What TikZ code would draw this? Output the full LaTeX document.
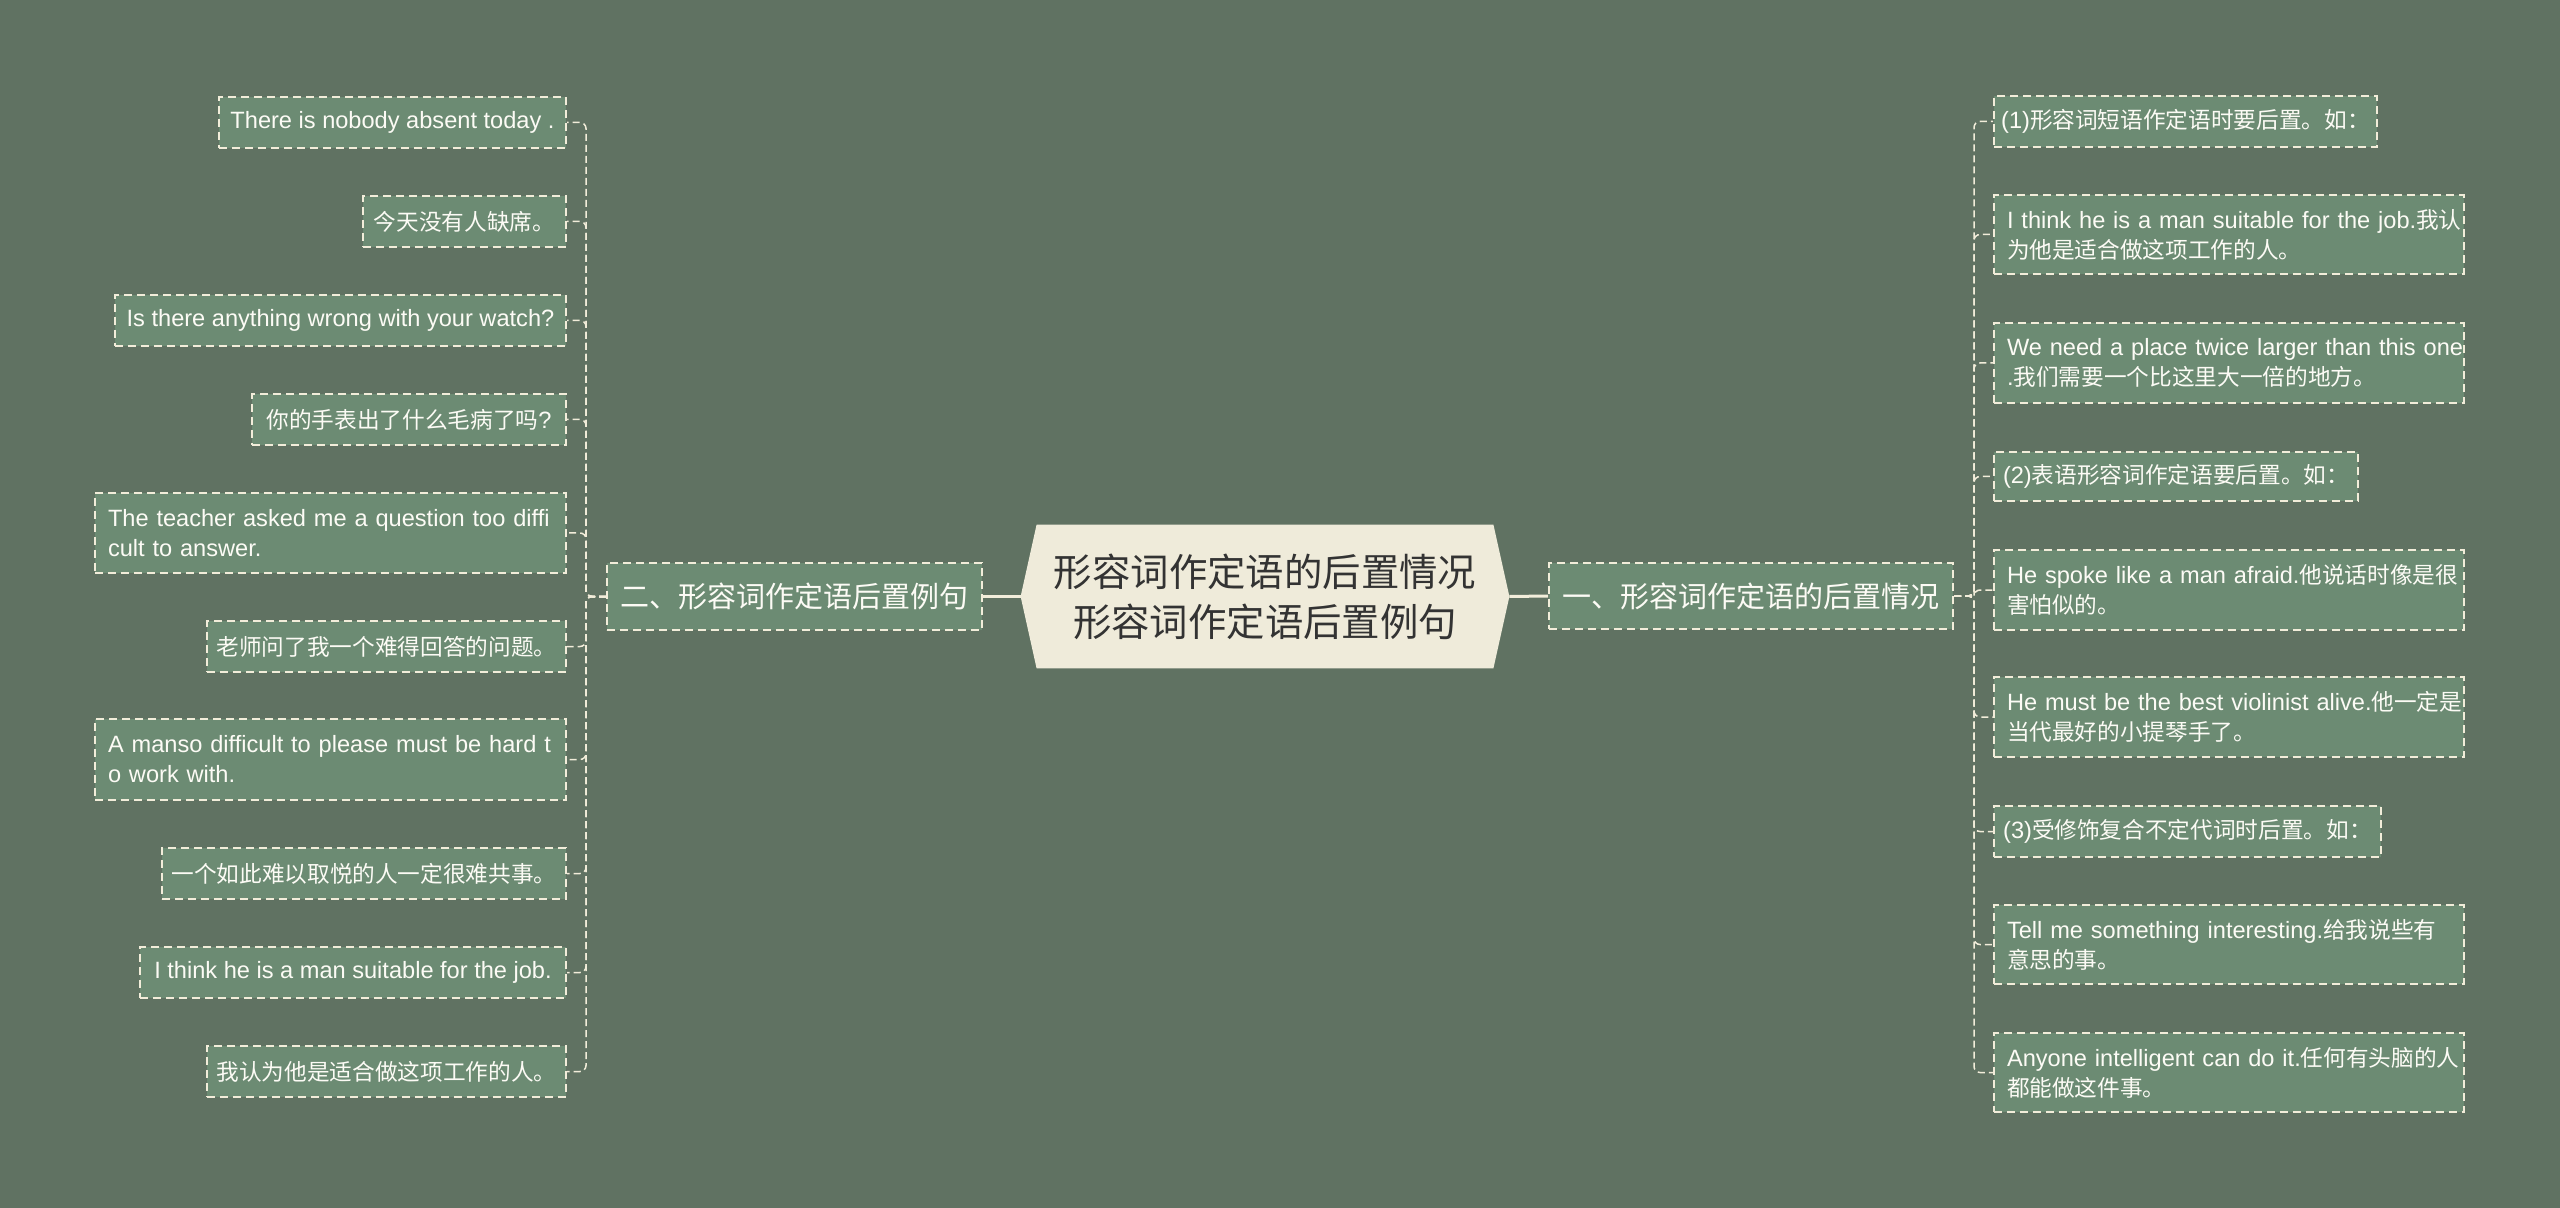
\documentclass[tikz,border=0pt]{standalone}
\usepackage{fontspec}
\setmainfont{Liberation Sans}
\newfontfamily\zhfont[Scale=0.96]{Noto Sans CJK SC}
\newcommand\zh[1]{{\zhfont #1}}
\usetikzlibrary{backgrounds}
\definecolor{bgc}{HTML}{607262}
\definecolor{leaffill}{HTML}{6C8B73}
\definecolor{edgec}{HTML}{F2EDDA}
\definecolor{creamc}{HTML}{EFEBDA}
\definecolor{darkc}{HTML}{333333}
\definecolor{txtc}{HTML}{FCFBF5}
\tikzset{
  leafbox/.style={draw=edgec, dash pattern=on 4pt off 2.5pt, line width=1pt, fill=leaffill,
    text=txtc, font=\fontsize{11.8}{15}\selectfont, align=left, inner sep=0pt},
  branchbox/.style={leafbox, font=\fontsize{15.1}{18}\selectfont},
  conn/.style={draw=edgec, line width=0.75pt, dash pattern=on 3.5pt off 2pt, rounded corners=3pt},
  mainconn/.style={draw=edgec, line width=1.5pt},
}
\newcommand\leafnode[6]{\node[leafbox, minimum width=#4*0.5pt, minimum height=#5*0.5pt] (#1) at (#2,#3) {#6};}
\newcommand\leaftwo[7]{\node[leafbox, minimum width=#4*0.5pt, minimum height=#5*0.5pt, text width=(#4-26)*0.5pt] (#1) at (#2,#3) {\mbox{#6}\\\mbox{#7}};}
\begin{document}
\begin{tikzpicture}[x=0.5pt,y=-0.5pt]
\useasboundingbox (0,0) rectangle (2560,1208);
% centre
\node[inner sep=0pt, minimum width=456*0.5pt, minimum height=143*0.5pt, text=darkc, align=center,
  font=\zhfont\fontsize{20}{25}\selectfont] (c) at (1265,596.5) {形容词作定语的后置情况\\形容词作定语后置例句};
\coordinate (cw) at ([xshift=-8pt]c.west);
\coordinate (ce) at ([xshift=8pt]c.east);
\begin{scope}[on background layer]
  \fill[bgc] (0,0) rectangle (2560,1208);
  \fill[creamc] (c.north west) -- (c.north east) -- (ce) -- (c.south east) -- (c.south west) -- (cw) -- cycle;
\end{scope}
% branches
\node[branchbox, minimum width=375*0.5pt, minimum height=67*0.5pt] (lb) at (794.5,596.5) {\zh{二、形容词作定语后置例句}};
\node[branchbox, minimum width=404*0.5pt, minimum height=66*0.5pt] (rb) at (1751,596) {\zh{一、形容词作定语的后置情况}};
\draw[mainconn] (cw) -- (lb.east);
\draw[mainconn] (ce) -- (rb.west);
% right leaves
\leafnode{r1}{2185.5}{121.5}{383}{51}{(1)\zh{形容词短语作定语时要后置。如：}}
\leaftwo{r2}{2229}{234.5}{470}{79}{I think he is a man suitable for the job.\zh{我认}}{\zh{为他是适合做这项工作的人。}}
\leaftwo{r3}{2229}{363}{470}{80}{We need a place twice larger than this one}{.\zh{我们需要一个比这里大一倍的地方。}}
\leafnode{r4}{2176}{476.5}{364}{49}{(2)\zh{表语形容词作定语要后置。如：}}
\leaftwo{r5}{2229}{590}{470}{80}{He spoke like a man afraid.\zh{他说话时像是很}}{\zh{害怕似的。}}
\leaftwo{r6}{2229}{717}{470}{80}{He must be the best violinist alive.\zh{他一定是}}{\zh{当代最好的小提琴手了。}}
\leafnode{r7}{2187.5}{831.5}{387}{51}{(3)\zh{受修饰复合不定代词时后置。如：}}
\leaftwo{r8}{2229}{944.5}{470}{79}{Tell me something interesting.\zh{给我说些有}}{\zh{意思的事。}}
\leaftwo{r9}{2229}{1072.5}{470}{79}{Anyone intelligent can do it.\zh{任何有头脑的人}}{\zh{都能做这件事。}}
% left leaves
\leafnode{l1}{392.5}{122.5}{347}{51}{There is nobody absent today .}
\leafnode{l2}{464.5}{221.5}{203}{51}{\zh{今天没有人缺席。}}
\leafnode{l3}{340.5}{320.5}{451}{51}{Is there anything wrong with your watch?}
\leafnode{l4}{409}{419.5}{314}{51}{\zh{你的手表出了什么毛病了吗}?}
\leaftwo{l5}{330.5}{533}{471}{80}{The teacher asked me a question too diffi}{cult to answer.}
\leafnode{l6}{386.5}{646.5}{359}{51}{\zh{老师问了我一个难得回答的问题。}}
\leaftwo{l7}{330.5}{759.5}{471}{81}{A manso difficult to please must be hard t}{o work with.}
\leafnode{l8}{364}{873.5}{404}{51}{\zh{一个如此难以取悦的人一定很难共事。}}
\leafnode{l9}{353}{972.5}{426}{51}{I think he is a man suitable for the job.}
\leafnode{l10}{386.5}{1071.5}{359}{51}{\zh{我认为他是适合做这项工作的人。}}
% connectors
\foreach \n in {r1,r2,r3,r4,r5,r6,r7,r8,r9}
  \draw[conn] (rb.east) -- ++(20,0) |- (\n.west);
\foreach \n in {l1,l2,l3,l4,l5,l6,l7,l8,l9,l10}
  \draw[conn] (lb.west) -- ++(-20,0) |- (\n.east);
\end{tikzpicture}
\end{document}
